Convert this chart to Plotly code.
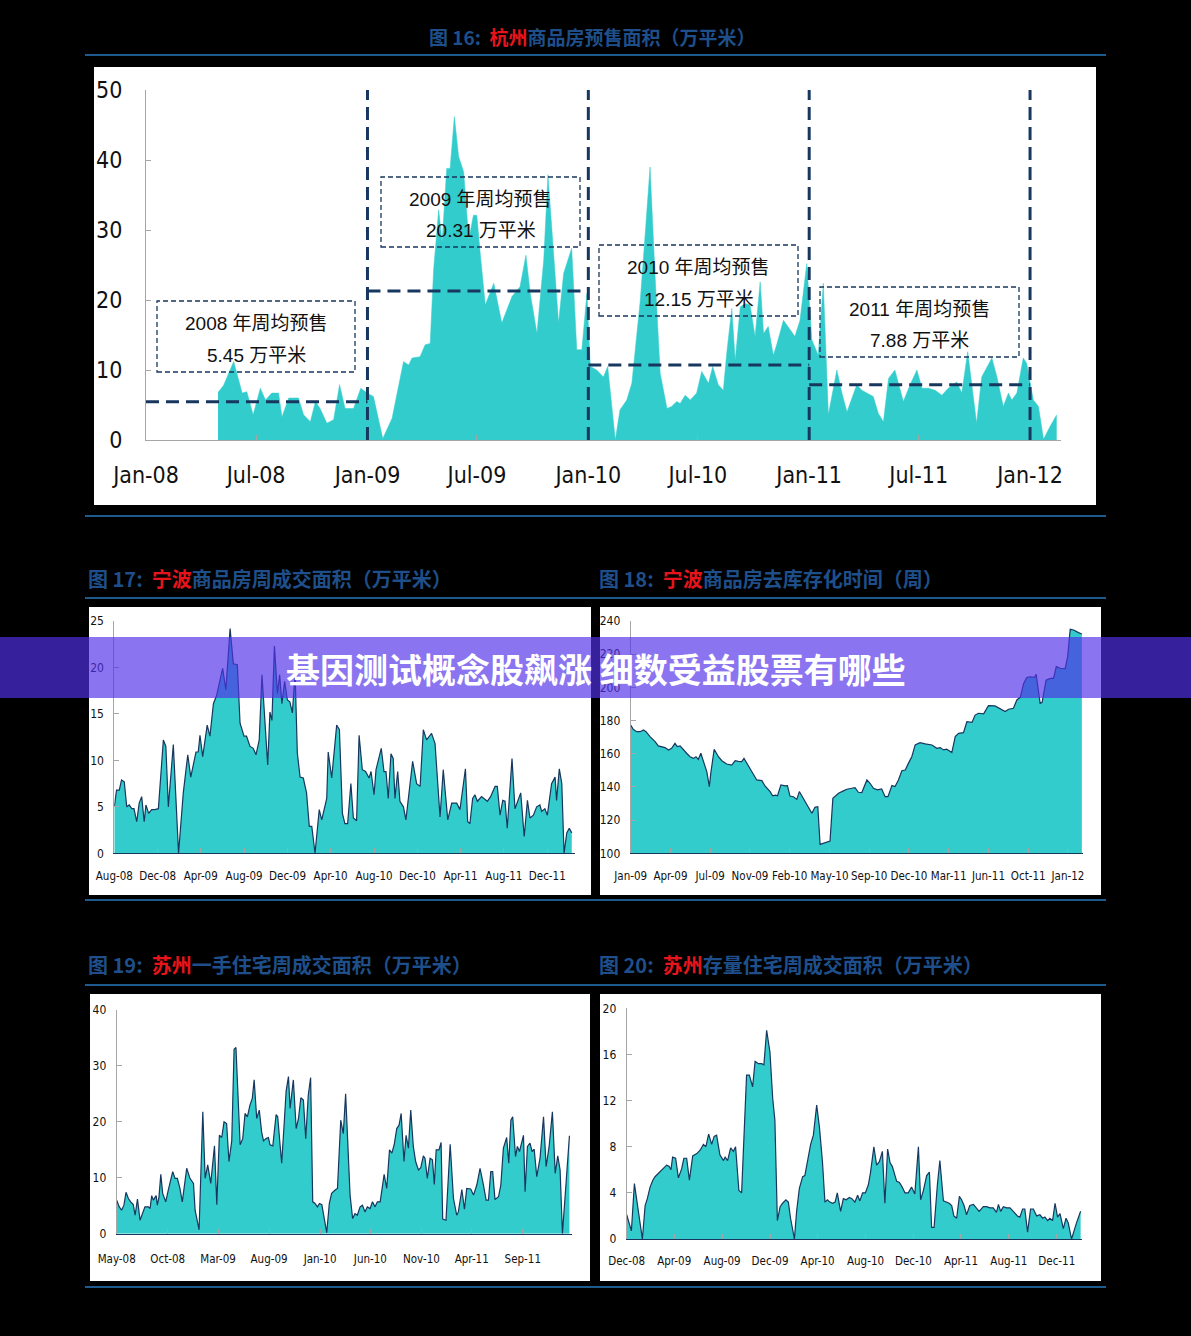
import numpy as np
import pandas as pd
import plotly.graph_objects as go

W, H = 1191, 1336
def X(p): return p / W
def Y(p): return 1 - p / H

# ---------------- DATA ----------------
# Fig 16: Hangzhou presale area (weeks since 2008-01-01, value in 万平米)
hz_base = "2008-01-01"
hz_weeks = [17.0,18.3,20.7,22.7,23.8,25.3,27.0,28.2,29.7,31.3,32.1,33.7,36.0,37.2,38.8,40.0,41.1,42.7,44.3,45.7,
            47.0,49.0,50.7,52.2,53.7,55.9,58.1,60.8,62.0,62.8,64.7,65.9,67.1,67.9,69.1,69.9,71.0,71.8,72.8,73.8,
            75.0,76.2,77.3,78.1,78.9,80.1,82.1,84.0,86.4,88.3,89.7,90.7,92.3,93.9,94.9,96.2,97.4,98.6,100.5,101.7,
            102.9,104.1,
            104.9,106.4,108.0,109.0,110.8,111.9,113.5,114.7,116.7,117.8,119.0,120.2,121.4,123.0,124.1,125.3,126.1,127.3,
            128.5,130.0,131.2,132.8,133.8,135.1,136.3,137.1,138.3,139.1,140.3,141.4,142.6,143.8,145.0,145.8,146.9,148.1,
            148.9,150.5,152.1,153.2,154.4,156.0,157.2,158.7,159.9,161.1,163.1,164.3,165.5,167.0,167.8,169.0,170.2,171.7,
            172.9,174.1,175.3,176.8,178.8,180.4,182.0,183.2,184.7,186.3,187.9,189.4,191.4,192.6,194.0,195.0,196.1,197.3,
            199.7,200.9,202.4,203.6,204.4,205.6,207.1,207.9,209.5,210.7,211.9,213.4,215.0]
hz_vals = [6.8,7.8,11.2,6.7,6.9,3.6,7.4,5.7,6.7,6.7,3.3,6.0,6.0,3.6,2.6,5.5,4.5,2.4,2.9,7.9,
           4.5,4.5,7.4,6.7,6.2,0.2,3.1,11.2,10.7,11.7,11.9,13.6,13.8,24.3,32.9,28.3,38.8,38.8,46.2,40.5,
           38.3,28.6,32.1,32.1,26.7,19.3,22.4,16.7,20.5,21.9,26.4,21.0,15.2,25.7,37.9,26.7,16.7,23.8,27.4,12.9,
           12.9,21.0,
           10.5,10.0,9.0,10.5,0.0,4.3,5.7,8.1,20.0,29.0,39.0,23.3,9.5,4.5,4.8,5.5,5.2,6.4,
           5.7,6.7,9.8,8.1,10.5,7.9,7.1,12.4,18.8,11.4,19.0,19.5,19.3,14.8,22.6,15.2,16.2,12.1,
           13.6,17.1,15.7,14.8,17.1,25.2,14.3,12.1,22.4,3.6,10.0,6.7,4.0,6.7,7.9,7.1,6.7,6.2,
           3.8,2.6,8.8,10.0,5.5,7.9,10.0,7.4,7.4,7.1,6.4,7.4,8.3,6.7,12.6,8.1,2.4,9.0,
           11.7,9.0,4.8,6.7,5.7,6.7,11.7,11.0,5.7,4.8,0.1,1.9,3.6]
hz_years = ["2008", "2009", "2010", "2011"]
hz_avg_level = [5.45, 21.3, 10.7, 7.88]          # dashed line level as drawn
hz_avg_label = ["5.45", "20.31", "12.15", "7.88"]  # value printed in the box

# Fig 17: Ningbo weekly transaction area (weeks since 2008-08-01)
nb_base = "2008-08-01"
nb_weeks = [0.0,0.9,2.0,2.9,4.0,5.0,6.0,7.0,7.9,9.0,10.0,11.0,12.0,12.7,13.8,15.0,16.3,17.7,19.7,20.7,
            21.7,23.7,25.8,27.7,29.5,30.7,32.8,33.7,34.4,35.5,37.3,38.4,39.8,41.1,43.5,44.8,46.5,47.8,49.4,50.5,
            52.1,53.1,54.5,55.8,56.9,58.2,59.3,60.5,61.6,62.5,63.3,64.3,65.5,66.4,67.3,68.4,69.5,70.5,71.5,72.6,
            73.5,74.6,75.9,77.2,78.3,79.3,80.6,82.3,83.3,85.3,85.9,87.3,89.3,90.4,91.6,92.6,93.7,95.0,96.0,97.3,
            98.3,99.6,100.9,102.3,103.1,104.3,105.1,107.2,108.3,109.1,110.0,111.1,112.0,112.7,113.8,114.7,116.1,117.1,118.5,119.8,
            121.4,122.8,124.1,125.4,127.4,128.8,130.8,132.1,133.9,135.5,137.5,138.8,141.0,141.9,142.8,143.9,144.8,145.8,147.5,149.8,
            151.1,152.9,153.8,154.9,156.0,156.9,157.8,159.7,160.9,163.2,164.6,165.9,166.9,168.3,169.6,170.9,171.6,172.9,173.9,175.6,
            177.0,177.6,178.7,179.7,180.6,181.7,182.7,183.7]
nb_vals = [5.0,6.8,6.8,7.9,7.7,5.0,5.2,4.8,4.8,3.4,5.4,6.1,3.4,5.2,4.3,4.7,4.7,4.8,12.2,11.5,
           5.0,11.7,0.0,6.5,10.6,8.2,10.9,10.9,12.7,10.4,13.8,12.6,16.1,17.0,19.9,17.6,24.2,20.4,20.3,14.0,
           12.6,12.6,11.5,11.3,10.6,12.2,19.2,13.6,9.5,15.2,14.3,22.3,17.2,19.2,16.1,18.5,16.5,16.3,15.1,19.4,
           10.8,8.2,8.1,6.5,2.9,2.9,0.0,4.7,3.6,5.9,10.9,8.1,13.8,13.3,4.3,3.2,3.2,7.5,3.8,3.5,
           12.7,9.0,8.8,8.1,8.8,6.3,9.0,11.3,8.8,8.8,5.9,10.7,10.2,5.9,8.8,5.6,5.0,3.6,7.2,9.9,
           7.5,7.2,13.3,12.2,12.9,11.8,3.9,9.0,3.6,5.4,5.4,4.7,9.1,3.4,3.2,5.9,6.3,5.6,6.1,5.6,
           6.1,7.2,7.2,4.1,5.7,5.6,2.7,10.2,4.8,6.5,1.8,5.7,3.8,4.1,5.0,5.2,4.5,4.8,4.1,7.5,
           8.2,5.7,9.1,7.5,0.0,2.2,2.7,2.2]

# Fig 18: Ningbo destocking time (weeks), x = period index
nbi_idx = [0,0.9,2.1,3.3,4.5,5.4,6.8,8.6,9.7,10.9,12.1,13.3,14.4,15.6,16.4,17.4,18.6,19.7,20.9,22.1,
           23.0,23.8,24.7,25.8,26.8,27.7,28.2,29.4,30.9,32.1,33.8,35.6,36.8,37.9,39.1,39.9,40.9,42.0,43.2,44.4,
           46.2,47.3,49.1,50.0,51.0,51.7,52.9,54.4,55.2,56.1,57.3,58.5,59.4,60.8,62.0,63.8,64.9,65.9,66.7,67.9,
           69.1,70.2,71.2,73.2,74.9,76.1,77.9,79.0,80.2,81.4,83.2,84.3,85.5,86.9,88.4,89.6,90.6,92.0,93.1,94.3,
           95.5,96.7,97.8,99.0,100.2,101.9,103.7,106.1,107.8,109.0,110.2,111.3,113.1,114.3,115.5,117.2,118.4,120.2,121.3,122.5,
           124.3,126.0,128.3,130.7,131.9,133.1,134.8,136.0,137.2,138.4,139.5,140.7,142.2,142.8,144.2,144.9,146.3,147.8,148.9,149.9,
           151.3,153.0,153.9,154.8,156.0,157.7,158.9]
nbi_vals = [177.3,174.7,173.3,173.3,174.3,173.3,170.3,167.3,164.7,164.3,163.7,162.3,163.3,166.3,164.3,164.7,162.7,160.3,158.2,157.2,
            158.2,156.6,160.3,154.2,149.2,140.2,148.2,162.7,158.2,155.8,153.8,153.2,155.8,155.4,155.2,157.2,154.2,151.2,147.2,144.2,
            143.8,140.6,137.2,134.7,135.1,134.7,141.2,140.6,140.8,134.5,134.1,132.5,137.2,133.1,129.1,124.1,127.7,128.1,105.4,106.0,
            106.6,107.4,133.1,136.2,137.6,138.6,139.2,139.6,136.8,136.6,144.2,142.2,139.2,138.2,138.8,134.1,134.1,140.8,140.2,144.2,
            149.8,150.2,154.2,158.2,165.3,166.7,165.9,165.3,163.3,163.7,162.3,162.7,160.7,170.3,172.3,172.7,179.3,178.9,183.3,184.4,
            184.0,189.0,188.8,186.4,185.4,186.8,187.4,192.4,194.0,202.4,206.0,206.4,206.0,207.9,190.4,191.0,204.4,205.4,205.4,212.5,
            211.5,211.1,218.5,235.0,234.6,233.0,232.2]
nbi_tickvals = [0, 14, 28, 42, 56, 70, 84, 98, 112, 126, 140, 154]
nbi_ticktext = ["Jan-09", "Apr-09", "Jul-09", "Nov-09", "Feb-10", "May-10", "Sep-10",
                "Dec-10", "Mar-11", "Jun-11", "Oct-11", "Jan-12"]

# Fig 19: Suzhou new-home weekly transaction area (weeks since 2008-05-01)
sz1_base = "2008-05-01"
sz1_weeks = [0.0,1.1,2.1,3.1,4.0,5.0,6.0,7.1,7.9,8.9,10.0,11.1,12.1,13.6,14.3,15.0,15.7,16.9,17.4,18.1,
             18.9,19.7,21.0,22.1,24.0,25.0,26.0,27.1,28.1,30.0,31.4,32.9,33.6,35.3,36.9,37.9,39.0,40.3,41.9,42.9,
             44.0,45.0,46.0,47.1,48.1,49.3,50.3,51.1,51.9,52.9,54.0,55.0,56.0,57.1,58.1,58.9,60.0,61.1,62.1,62.9,
             64.0,65.0,65.7,66.9,68.3,69.0,70.0,70.7,71.9,72.6,73.6,74.3,75.7,76.9,77.9,78.9,80.0,81.0,82.1,83.1,
             84.0,85.0,86.0,86.9,87.9,90.0,91.1,92.1,93.6,94.6,96.0,97.1,98.1,99.0,100.0,101.1,102.1,103.1,104.3,105.3,
             106.4,107.4,108.6,109.6,110.7,111.7,112.9,114.6,115.7,116.9,117.9,118.9,120.0,121.0,121.9,123.1,124.0,125.0,126.0,127.1,
             128.1,129.3,130.3,131.4,132.1,133.1,134.3,135.3,136.1,136.9,138.1,139.0,139.7,141.1,142.9,144.3,145.7,146.4,147.9,149.0,
             150.0,151.7,152.9,154.3,155.7,157.1,158.3,159.3,160.3,161.1,162.1,163.6,164.6,165.7,167.1,168.0,168.9,169.7,170.9,171.7,
             172.6,174.3,175.0,176.0,177.1,178.0,178.9,180.0,181.4,182.9,184.0,185.3,186.7,187.9,189.0,190.0,191.0,194.0]
sz1_vals = [6.0,4.8,4.2,5.1,7.4,6.3,5.7,5.2,3.3,6.2,2.4,3.5,4.8,4.8,4.5,6.8,6.0,6.8,5.1,6.5,
            10.6,7.2,5.7,7.8,11.1,9.9,9.9,8.1,5.7,11.7,9.9,9.0,4.2,0.7,21.8,9.9,12.3,9.0,15.7,5.2,
            17.6,17.2,20.0,19.7,12.9,16.6,33.0,33.3,26.6,15.9,17.0,21.5,20.9,23.0,24.2,27.5,20.6,22.1,18.2,16.6,
            17.0,17.2,15.9,15.7,21.3,20.9,15.9,12.6,20.6,25.5,28.1,22.4,27.5,18.8,20.6,24.3,23.9,17.0,24.8,27.9,
            5.7,5.4,4.8,5.4,5.2,0.2,5.4,7.2,7.8,8.1,20.3,17.9,25.0,15.0,6.9,2.7,3.6,3.3,4.8,5.1,
            3.9,4.8,4.5,5.7,4.8,5.7,5.7,10.6,8.1,15.0,14.4,15.9,18.8,19.4,21.5,12.9,17.6,15.3,22.1,15.6,
            12.9,11.4,11.8,13.9,13.5,9.9,13.5,13.2,8.8,15.0,15.0,16.3,2.6,2.4,16.0,6.3,3.3,3.9,7.9,4.4,
            8.1,8.0,6.9,8.7,11.7,8.8,6.0,6.0,11.1,11.1,6.1,6.6,8.7,15.3,17.2,12.6,20.3,20.9,13.8,15.6,
            14.7,17.6,7.5,15.6,16.2,14.7,15.1,10.2,13.5,20.9,12.0,15.6,21.8,10.8,13.9,11.4,0.0,17.5]

# Fig 20: Suzhou resale weekly transaction area (weeks since 2008-12-01)
sz2_base = "2008-12-01"
sz2_weeks = [0.0,0.8,1.7,2.8,3.6,4.8,5.7,6.7,7.5,8.5,9.5,10.3,11.5,12.7,13.6,14.5,15.4,16.1,16.7,17.8,
             18.8,20.0,20.8,21.8,22.8,24.0,25.5,26.7,27.9,28.8,29.8,30.9,31.8,32.7,33.9,35.2,35.8,36.7,37.8,38.8,
             39.6,40.8,41.8,43.6,44.6,45.8,46.7,47.9,49.1,49.9,50.9,52.1,53.1,53.9,54.8,55.8,56.7,57.9,58.8,59.6,
             61.0,61.8,62.8,64.0,64.8,66.1,66.9,67.9,69.1,70.1,71.2,72.1,73.0,73.9,74.9,75.8,76.6,77.8,78.8,79.8,
             81.0,81.9,83.0,84.0,84.8,85.8,86.8,87.9,88.7,89.9,90.9,91.9,93.0,93.9,94.9,95.8,96.6,98.2,99.2,100.2,
             101.2,102.4,103.6,104.8,106.1,106.9,107.9,109.1,110.1,110.9,111.8,113.0,113.9,115.2,116.1,117.3,118.2,119.0,120.0,121.0,
             121.8,122.7,123.6,124.8,126.1,127.3,128.2,129.7,130.9,132.1,133.3,134.5,135.2,136.0,137.0,138.2,139.4,140.6,142.1,143.0,
             144.0,144.8,145.8,146.9,147.9,149.1,150.3,151.3,152.1,153.1,153.9,154.9,155.8,156.7,157.6,158.8,159.8,160.6,161.8,163.6,
             165.1]
sz2_vals = [2.1,1.5,0.7,4.8,3.5,1.8,0.0,2.9,3.5,4.5,5.1,5.4,5.7,6.0,6.2,6.4,6.3,6.0,7.1,7.0,
            5.3,6.1,7.0,7.0,5.1,7.2,7.4,7.7,8.2,8.0,9.1,8.2,8.9,9.0,7.3,6.8,7.1,6.8,7.9,7.6,
            8.0,4.2,4.0,14.2,14.2,13.2,15.4,15.2,15.2,15.1,18.1,16.2,12.2,10.3,1.6,2.8,3.1,3.4,3.2,1.8,
            0.0,2.4,4.4,5.4,5.5,7.0,8.2,9.0,11.6,9.7,6.7,3.2,3.4,3.2,3.1,3.2,4.0,2.4,3.5,3.4,
            3.6,3.5,3.2,3.8,3.3,4.0,4.0,4.7,5.8,8.0,6.4,6.7,7.6,3.1,7.8,6.6,6.3,5.0,4.9,4.5,
            4.0,4.0,4.5,3.9,8.0,3.4,4.2,5.5,5.8,1.0,1.0,4.7,6.8,3.3,3.2,3.1,2.9,2.0,1.8,3.7,
            3.4,2.9,2.1,2.9,3.0,2.7,2.4,2.8,2.8,2.7,2.7,2.3,3.0,2.4,2.8,2.7,2.7,2.4,2.0,1.9,
            2.6,2.6,0.6,2.6,2.6,2.0,2.1,1.8,1.9,1.6,1.8,1.6,3.1,1.9,2.2,0.9,1.8,1.4,0.0,1.4,
            2.4]

titles = [
    ("图 16:  ", "杭州", "商品房预售面积（万平米）"),
    ("图 17:  ", "宁波", "商品房周成交面积（万平米）"),
    ("图 18:  ", "宁波", "商品房去库存化时间（周）"),
    ("图 19:  ", "苏州", "一手住宅周成交面积（万平米）"),
    ("图 20:  ", "苏州", "存量住宅周成交面积（万平米）"),
]
banner_text = "基因测试概念股飙涨 细数受益股票有哪些"

# ---------------- STYLE ----------------
FILL = "#33cccc"
NAVY = "#17375e"
TBLUE = "#1f4f8a"
RULE = "#1d5a8e"
RED = "#e8141b"
NARROW = "Liberation Sans Narrow, DejaVu Sans Condensed, Liberation Sans, sans-serif"
CJK = "Noto Sans CJK SC, sans-serif"

def to_dates(base, weeks):
    return pd.Timestamp(base) + pd.to_timedelta(np.array(weeks) * 7, unit="D")

def dstr(base, weeks):
    return (pd.Timestamp(base) + pd.Timedelta(days=weeks * 7)).strftime("%Y-%m-%d %H:%M:%S")

fig = go.Figure()

# Fig 16
fig.add_trace(go.Scatter(x=to_dates(hz_base, hz_weeks), y=hz_vals, mode="lines",
                         fill="tozeroy", fillcolor=FILL, line=dict(color=FILL, width=0.5),
                         xaxis="x", yaxis="y", hoverinfo="skip"))
for yr, lvl in zip(hz_years, hz_avg_level):
    fig.add_trace(go.Scatter(x=[f"{yr}-01-01", f"{int(yr)+1}-01-01"], y=[lvl, lvl], mode="lines",
                             line=dict(color=NAVY, width=3, dash="13px,7px"),
                             xaxis="x", yaxis="y", hoverinfo="skip"))
# Fig 17-20
fig.add_trace(go.Scatter(x=to_dates(nb_base, nb_weeks), y=nb_vals, mode="lines", fill="tozeroy",
                         fillcolor=FILL, line=dict(color=NAVY, width=1.2), xaxis="x2", yaxis="y2"))
fig.add_trace(go.Scatter(x=nbi_idx, y=nbi_vals, mode="lines", fill="tozeroy",
                         fillcolor=FILL, line=dict(color=NAVY, width=1.2), xaxis="x3", yaxis="y3"))
fig.add_trace(go.Scatter(x=to_dates(sz1_base, sz1_weeks), y=sz1_vals, mode="lines", fill="tozeroy",
                         fillcolor=FILL, line=dict(color=NAVY, width=1.2), xaxis="x4", yaxis="y4"))
fig.add_trace(go.Scatter(x=to_dates(sz2_base, sz2_weeks), y=sz2_vals, mode="lines", fill="tozeroy",
                         fillcolor=FILL, line=dict(color=NAVY, width=1.2), xaxis="x5", yaxis="y5"))

def xax(dom, rng, size, xline="#a6a6a6", standoff=4, **kw):
    d = dict(domain=[X(dom[0]), X(dom[1])], range=rng, showgrid=False, zeroline=False,
             showline=True, linecolor=xline, linewidth=1.3, ticks="inside", ticklen=5,
             tickcolor="#a6a6a6", tickfont=dict(family=NARROW, size=size, color="#111"),
             ticklabelstandoff=standoff, fixedrange=True, automargin=False, tickangle=0)
    d.update(kw)
    return d

def yax(dom, rng, dtick, size, standoff=4, **kw):
    d = dict(domain=[Y(dom[0]), Y(dom[1])], range=rng, dtick=dtick, showgrid=False, zeroline=False,
             showline=True, linecolor="#a6a6a6", linewidth=1, ticks="inside", ticklen=5,
             tickcolor="#a6a6a6", tickfont=dict(family=NARROW, size=size, color="#111"),
             ticklabelstandoff=standoff, fixedrange=True, automargin=False, tickangle=0)
    d.update(kw)
    return d

SX = 11.5  # small-chart x tick font
hz_end_weeks = (1060.6 - 145.7) / (0.6053 * 7)
fig.update_layout(
    template="none",
    xaxis=xax((146, 1060.6), [dstr(hz_base, 0), dstr(hz_base, hz_end_weeks)], 23, standoff=14,
              anchor="y", type="date", dtick="M6", tick0="2008-01-01", tickformat="%b-%y"),
    yaxis=yax((440, 90), [0, 50], 10, 23, standoff=18, anchor="x"),
    xaxis2=xax((114.3, 575), [dstr(nb_base, 0), dstr(nb_base, 185.0)], SX, xline=NAVY, standoff=12,
               anchor="y2", type="date", dtick="M4", tick0="2008-08-01", tickformat="%b-%y"),
    yaxis2=yax((853.3, 621), [0, 25], 5, 12, standoff=7, anchor="x2"),
    xaxis3=xax((630.7, 1083), [0, 159.3], SX, xline=NAVY, standoff=12, anchor="y3",
               tickvals=nbi_tickvals, ticktext=nbi_ticktext),
    yaxis3=yax((853.3, 621), [100, 240], 20, 12, standoff=7, anchor="x3"),
    xaxis4=xax((116.7, 572), [dstr(sz1_base, 0), dstr(sz1_base, 195.1)], SX, xline=NAVY, standoff=14,
               anchor="y4", type="date", dtick="M5", tick0="2008-05-01", tickformat="%b-%y"),
    yaxis4=yax((1233.7, 1010), [0, 40], 10, 12, standoff=7, anchor="x4"),
    xaxis5=xax((626.7, 1082), [dstr(sz2_base, 0), dstr(sz2_base, 165.6)], SX, xline=NAVY, standoff=11,
               anchor="y5", type="date", dtick="M4", tick0="2008-12-01", tickformat="%b-%y"),
    yaxis5=yax((1239, 1008.3), [0, 20], 4, 12, standoff=7, anchor="x5"),
)

shapes = []
# white panels
for (x0, y0, x1, y1) in [(94, 67, 1096, 505), (89, 607, 591, 895), (600, 607, 1101, 895),
                         (90, 994, 590, 1281), (600, 994, 1101, 1281)]:
    shapes.append(dict(type="rect", xref="paper", yref="paper", x0=X(x0), x1=X(x1), y0=Y(y1), y1=Y(y0),
                       fillcolor="white", line=dict(width=0), layer="below"))
# horizontal rules
for yy in [55, 516, 598, 900, 985, 1287]:
    shapes.append(dict(type="line", xref="paper", yref="paper", x0=X(85), x1=X(1106), y0=Y(yy), y1=Y(yy),
                       line=dict(color=RULE, width=2), layer="below"))
# year separators on fig 16
for yr in hz_years:
    nxt = f"{int(yr)+1}-01-01"
    shapes.append(dict(type="line", xref="x", yref="y", x0=nxt, x1=nxt, y0=0, y1=51,
                       line=dict(color=NAVY, width=3, dash="13px,7px"), layer="above"))
# dashed note boxes
boxes = [(157, 301, 355, 372), (381, 177, 580, 247), (599, 245, 798, 316), (820, 287, 1019, 357)]
for (x0, y0, x1, y1) in boxes:
    shapes.append(dict(type="rect", xref="paper", yref="paper", x0=X(x0), x1=X(x1), y0=Y(y1), y1=Y(y0),
                       fillcolor="rgba(0,0,0,0)", line=dict(color=NAVY, width=1.3, dash="5px,3px"),
                       layer="above"))
# banner
shapes.append(dict(type="rect", xref="paper", yref="paper", x0=0, x1=1, y0=Y(698), y1=Y(637),
                   fillcolor="rgba(80,48,231,0.67)", line=dict(width=0), layer="above"))

ann = []
# box texts
for (x0, y0, x1, y1), yr, lab in zip(boxes, hz_years, hz_avg_label):
    cx = (x0 + x1) / 2
    ann.append(dict(x=X(cx), y=Y(y0 + 23), xref="paper", yref="paper", showarrow=False,
                    text=f"{yr} 年周均预售", font=dict(family="Liberation Sans, " + CJK, size=19, color="#111"),
                    xanchor="center", yanchor="middle"))
    ann.append(dict(x=X(cx), y=Y(y0 + 54), xref="paper", yref="paper", showarrow=False,
                    text=f"{lab} 万平米", font=dict(family="Liberation Sans, " + CJK, size=19, color="#111"),
                    xanchor="center", yanchor="middle"))
# titles
tpos = [(592, 36, "center", 19), (86, 578, "left", 20), (597, 578, "left", 20),
        (86, 964, "left", 20), (597, 964, "left", 20)]
for (a, city, b), (tx, ty, anc, fs) in zip(titles, tpos):
    ann.append(dict(x=X(tx), y=Y(ty), xref="paper", yref="paper", showarrow=False, xanchor=anc,
                    yanchor="middle",
                    text=f"<b>{a}<span style='color:{RED}'>{city}</span>{b}</b>",
                    font=dict(family=CJK, size=fs, color=TBLUE)))
# banner text
ann.append(dict(x=X(596), y=Y(668), xref="paper", yref="paper", showarrow=False, xanchor="center",
                yanchor="middle", text=f"<b>{banner_text}</b>",
                font=dict(family=CJK, size=34, color="white")))

fig.update_layout(shapes=shapes, annotations=ann, width=W, height=H,
                  margin=dict(l=0, r=0, t=0, b=0, pad=0), paper_bgcolor="black", plot_bgcolor="white",
                  showlegend=False, autosize=False)

fig.write_html("out.html")
